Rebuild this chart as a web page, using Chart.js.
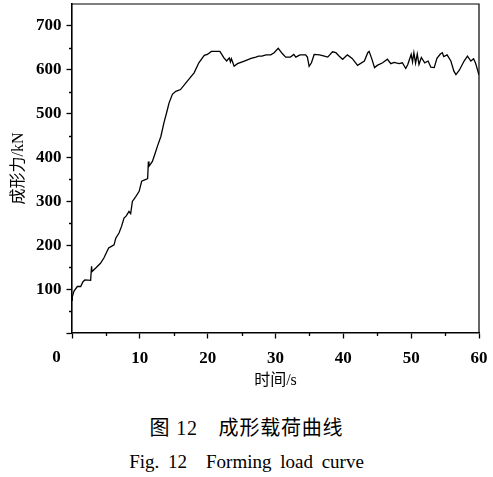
<!DOCTYPE html>
<html lang="zh">
<head>
  <meta charset="utf-8">
  <title>成形载荷曲线</title>
  <script src="https://cdn.jsdelivr.net/npm/chart.js@4.4.1/dist/chart.umd.min.js"></script>
  <style>
    body {
      margin: 0;
      background: #fff;
    }
    #wrap {
      position: relative;
      width: 493px;
      height: 477px;
    }
    .caption {
      position: absolute;
      left: 0;
      width: 493px;
      text-align: center;
      color: #000;
      font-family: "Liberation Serif", "Noto Sans CJK SC", serif;
      white-space: pre;
    }
    #cap-zh {
      top: 417px;
      font-size: 20px;
      line-height: 22px;
      letter-spacing: 0.8px;
    }
    #cap-en {
      top: 452px;
      font-size: 19px;
      line-height: 19px;
      word-spacing: 4px;
    }
  </style>
</head>
<body>
  <div id="wrap">
    <canvas id="myChart" width="493" height="400"></canvas>
    <div id="cap-zh" class="caption">图 12　成形载荷曲线</div>
    <div id="cap-en" class="caption">Fig. 12　Forming load curve</div>
  </div>

  <script>
    // values (time in s, load in kN)
    const time = [
      0, 0.05, 0.28, 0.78, 1.28, 1.62, 1.9, 2.75, 2.88, 2.95,
      3.5, 4.2, 4.7, 5.4, 5.75, 6.2, 6.45, 6.93, 7.3, 7.67,
      8.0, 8.4, 8.65, 8.9, 9.4, 9.9, 10.27, 10.9, 11.15, 11.26,
      11.35, 11.85, 12.2, 12.6, 13.1, 13.55, 14.06, 14.3, 14.8, 15.3,
      16.0, 17.0, 18.0, 18.7, 19.5, 19.96, 20.55, 21.8, 22.4, 22.8,
      23.0, 23.2, 23.35, 23.5, 23.9, 24.4, 25.4, 26.4, 27.1, 27.5,
      28.0, 28.6, 29.3, 29.8, 30.4, 31.0, 31.5, 32.2, 32.7, 33.0,
      33.6, 34.45, 34.7, 34.96, 35.3, 35.7, 36.5, 37.2, 37.7, 38.4,
      38.9, 39.4, 39.9, 40.6, 41.3, 42.1, 43.1, 43.6, 43.8, 44.2,
      44.6, 45.0, 45.8, 46.5, 47.0, 47.5, 48.2, 48.7, 49.2, 49.5,
      50.0, 50.2, 50.4, 50.65, 50.9, 51.15, 51.5, 52.0, 52.5, 52.9,
      53.4, 53.8, 54.3, 54.6, 54.8, 55.3, 55.85, 56.3, 56.6, 57.1,
      57.8, 58.3, 58.8, 59.2, 59.5, 60.0
    ];
    const load = [
      75, 83, 95, 106, 106, 117, 121, 120, 152, 140,
      148, 159, 171, 194, 197, 201, 216, 228, 243, 262,
      267, 277, 272, 300, 311, 323, 346, 350, 352, 391,
      380, 391, 407, 426, 448, 479, 509, 524, 544, 551,
      555, 574, 593, 616, 633, 635, 642, 642, 627, 620,
      624, 627, 618, 625, 608, 614, 620, 626, 629, 631,
      631, 634, 634, 639, 649, 637, 629, 629, 635, 629,
      634, 634, 629, 608, 616, 635, 634, 631, 629, 641,
      639, 631, 624, 634, 626, 610, 620, 639, 642, 625,
      605, 610, 616, 624, 614, 617, 614, 616, 603, 612,
      635, 618, 639, 615, 636, 612, 628, 616, 620, 606,
      605, 626, 636, 639, 630, 634, 620, 597, 589, 599,
      620, 631, 620, 625, 615, 588
    ];
    const xLabels = [10, 20, 30, 40, 50, 60];
    const yLabels = [100, 200, 300, 400, 500, 600, 700];

    const tickFont = { family: "'Liberation Serif', serif", size: 17, weight: 'bold' };
    const titleFont = { family: "'Liberation Serif', 'Noto Sans CJK SC', serif", size: 16 };

    // box on top/right, short minor ticks, and the shared origin "0"
    const framePlugin = {
      id: 'frame',
      afterDraw(chart) {
        const ctx = chart.ctx;
        const a = chart.chartArea;
        const xs = chart.scales.x;
        const ys = chart.scales.y;
        ctx.save();
        ctx.strokeStyle = '#000';
        ctx.lineWidth = 1.2;
        ctx.beginPath();
        ctx.moveTo(a.left, a.top);
        ctx.lineTo(a.right, a.top);
        ctx.lineTo(a.right, a.bottom);
        ctx.stroke();

        ctx.lineWidth = 1.3;
        ctx.beginPath();
        ys.ticks.forEach(t => {
          if (t.value % 100 !== 0 && t.value < ys.max) {
            const py = Math.round(ys.getPixelForValue(t.value)) + 0.5;
            ctx.moveTo(a.left - 3, py);
            ctx.lineTo(a.left, py);
          }
        });
        xs.ticks.forEach(t => {
          if (t.value % 10 !== 0) {
            const px = Math.round(xs.getPixelForValue(t.value)) + 0.5;
            ctx.moveTo(px, a.bottom);
            ctx.lineTo(px, a.bottom + 3);
          }
        });
        ctx.stroke();

        ctx.fillStyle = '#000';
        ctx.font = 'bold 17px "Liberation Serif", serif';
        ctx.textAlign = 'center';
        ctx.textBaseline = 'middle';
        ctx.fillText('0', xs.getPixelForValue(0) - 15.5, 357.5);
        ctx.restore();
      }
    };

    new Chart('myChart', {
      type: 'line',
      data: {
        datasets: [{
          data: time.map((t, i) => ({ x: t, y: load[i] })),
          borderColor: '#000',
          borderWidth: 1.3,
          pointRadius: 0,
          tension: 0,
          fill: false
        }]
      },
      options: {
        responsive: false,
        animation: false,
        devicePixelRatio: 1,
        events: [],
        layout: { padding: { left: 0, top: 4, right: 14, bottom: 0 } },
        plugins: {
          legend: { display: false },
          tooltip: { enabled: false }
        },
        scales: {
          x: {
            type: 'linear',
            min: 0,
            max: 60,
            afterFit: s => {
              s.height = 67;
              s.paddingLeft = 0;
              s.paddingRight = 0;
            },
            border: { color: '#000', width: 1.6 },
            grid: {
              drawOnChartArea: false,
              tickLength: 5.5,
              tickWidth: 1.3,
              tickColor: c => (c.tick && c.tick.value % 10 === 0 ? '#000' : 'transparent')
            },
            ticks: {
              stepSize: 5,
              autoSkip: false,
              maxRotation: 0,
              padding: 10,
              color: '#000',
              font: tickFont,
              callback: v => (xLabels.includes(v) ? String(v) : '')
            },
            title: {
              display: true,
              text: '时间/s',
              color: '#000',
              font: titleFont,
              padding: { top: 0, bottom: 10 }
            }
          },
          y: {
            min: 0,
            max: 750,
            afterFit: s => {
              s.width = 72;
              s.paddingTop = 0;
              s.paddingBottom = 0;
            },
            border: { color: '#000', width: 1.6 },
            grid: {
              drawOnChartArea: false,
              tickLength: 5.5,
              tickWidth: 1.3,
              tickColor: c => (c.tick && c.tick.value % 100 === 0 ? '#000' : 'transparent')
            },
            ticks: {
              stepSize: 50,
              autoSkip: false,
              padding: 5,
              color: '#000',
              font: tickFont,
              callback: v => (yLabels.includes(v) ? String(v) : '')
            },
            title: {
              display: true,
              text: '成形力/kN',
              color: '#000',
              font: titleFont,
              padding: { top: 9, bottom: 0 }
            }
          }
        }
      },
      plugins: [framePlugin]
    });
  </script>
</body>
</html>
